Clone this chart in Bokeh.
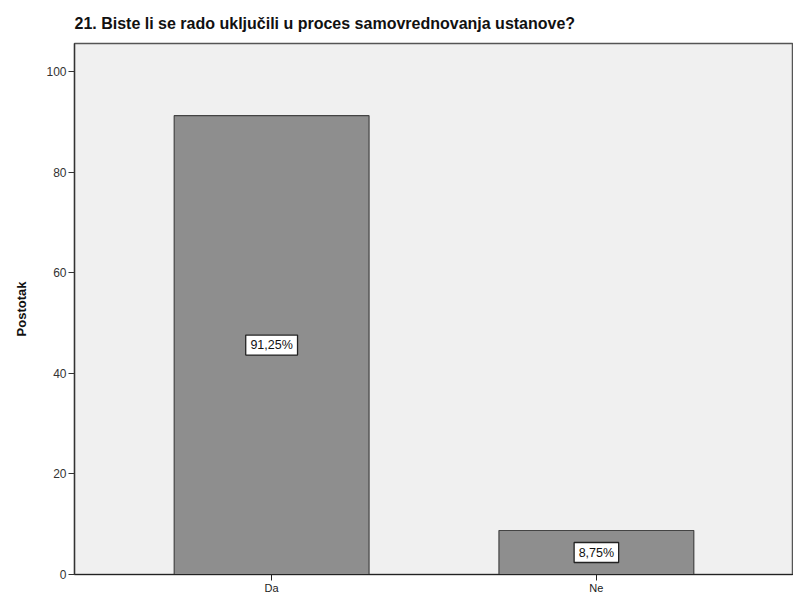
from bokeh.plotting import figure
from bokeh.models import ColumnDataSource, LabelSet, Range1d, FactorRange
from bokeh.core.properties import value
from bokeh.embed import file_html
from bokeh.resources import INLINE

categories = ["Da", "Ne"]
percent = [91.25, 8.75]
labels = [f"{v:.2f}".replace(".", ",") + "%" for v in percent]
y_ticks = [0, 20, 40, 60, 80, 100]

src = ColumnDataSource(dict(cat=categories, val=percent, mid=[v / 2 for v in percent], lab=labels,
                            bw=[len(s) * 7.3 + 8 for s in labels]))

p = figure(width=793, height=597, output_backend="svg", toolbar_location=None,
           x_range=FactorRange(factors=categories, range_padding=0.107),
           y_range=Range1d(0, 105.6),
           min_border_left=74, min_border_right=0, min_border_top=43, min_border_bottom=23,
           title="21. Biste li se rado uključili u proces samovrednovanja ustanove?")

p.title.text_font = "Liberation Sans"
p.title.text_font_size = "16px"
p.title.text_font_style = "bold"
p.title.text_color = "#111111"
p.title.offset = 0
p.title.standoff = 23

p.background_fill_color = "#f0f0f0"
p.border_fill_color = "white"
p.outline_line_color = "#555555"
p.outline_line_width = 1.5
p.xgrid.grid_line_color = None
p.ygrid.grid_line_color = None

p.vbar(x="cat", top="val", width=0.6, source=src, fill_color="#8e8e8e",
       line_color="#444444", line_width=1.2)

p.rect(x="cat", y="mid", width="bw", height=20, width_units="screen", height_units="screen",
       source=src, fill_color="white", line_color="#222222", line_width=1.3)

ls = LabelSet(x="cat", y="mid", text="lab", source=src, text_align="center",
              text_baseline="middle", text_font=value("Liberation Sans"),
              text_font_size=value("12.5px"), text_color="#111111")
p.add_layout(ls)

ya = p.yaxis[0]
ya.ticker = y_ticks
ya.axis_label = "Postotak"
ya.axis_label_text_font = "Liberation Sans"
ya.axis_label_text_font_size = "13px"
ya.axis_label_text_font_style = "bold"
ya.axis_label_text_color = "#111111"
ya.axis_label_standoff = 14
ya.major_label_text_font = "Liberation Sans"
ya.major_label_text_font_size = "12px"
ya.major_label_text_color = "#333333"
ya.major_label_standoff = 2
ya.major_tick_out = 6
ya.major_tick_in = 0
ya.minor_tick_line_color = None
ya.axis_line_color = "#333333"
ya.axis_line_width = 1.2
ya.major_tick_line_color = "#333333"
ya.major_tick_line_width = 1.2

xa = p.xaxis[0]
xa.major_label_text_font = "Liberation Sans"
xa.major_label_text_font_size = "11px"
xa.major_label_text_color = "#222222"
xa.major_label_standoff = 1
xa.major_tick_out = 6
xa.major_tick_in = 0
xa.axis_line_color = "#222222"
xa.axis_line_width = 1.2
xa.major_tick_line_color = "#222222"

open("out.html", "w").write(file_html(p, INLINE))
